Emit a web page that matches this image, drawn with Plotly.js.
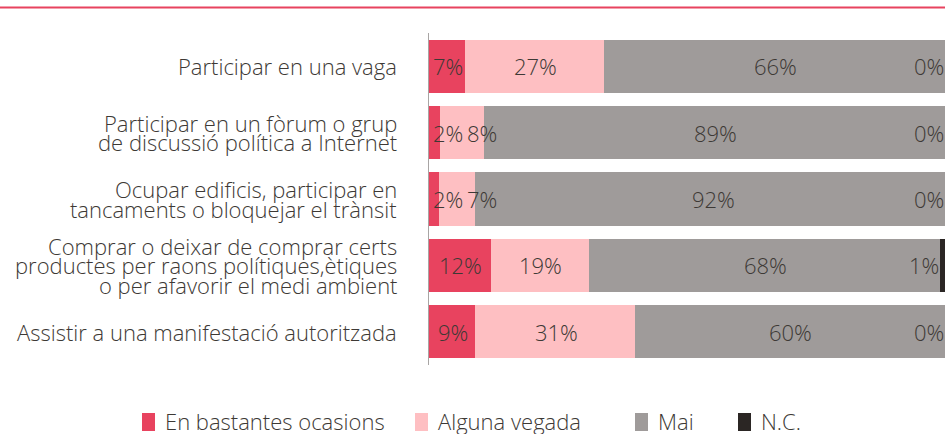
<!DOCTYPE html>
<html>
<head>
<meta charset="utf-8">
<script src="https://cdn.plot.ly/plotly-3.0.1.min.js"></script>
<style>html,body{margin:0;padding:0;background:#fff;}#chart{width:945px;height:434px;}</style>
</head>
<body>
<div id="chart"></div>
<script>
const categories = [
  "Participar en una vaga",
  "Participar en un fòrum o grup<br>de discussió política a Internet",
  "Ocupar edificis, participar en<br>tancaments o bloquejar el trànsit",
  "Comprar o deixar de comprar certs<br>productes per raons polítiques,ètiques<br>o per afavorir el medi ambient",
  "Assistir a una manifestació autoritzada"
];
const seriesNames = ["En bastantes ocasions", "Alguna vegada", "Mai", "N.C."];
const bastantes = [7, 2.2, 2, 12, 9];
const alguna = [27, 8.4, 7, 19, 31];
const mai = [66, 89.4, 92, 68, 60];
const nc = [0, 0, 0, 1, 0];

const colors = ["#E8435F", "#FEBFC2", "#9F9B9A", "#2B2624"];
const txtColor = "#3d3935";
const fontFam = "'Open Sans', Lato, sans-serif";
const fs = 22;

// plot geometry (pixels)
const W = 945, H = 434, ML = 429, MT = 33, MB = 69;
const PW = W - ML, PH = H - MT - MB;
const pxPerUnit = PW / 100;
const px2paperX = p => (p - ML) / PW;
const px2paperY = p => (H - MB - p) / PH;

const seriesVals = [bastantes, alguna, mai, nc];
const traces = seriesVals.map((vals, i) => ({
  type: "bar",
  orientation: "h",
  name: seriesNames[i],
  y: categories,
  x: vals,
  marker: {color: colors[i]},
  textposition: "none",
  hoverinfo: "skip",
  showlegend: false
}));

const annotations = [];
const font = {family: fontFam, size: fs, color: txtColor, weight: 300};
const fmt = v => Math.round(v) + "%";
const estW = s => s.split("").reduce((a, ch) => a + (ch === "%" ? 0.84 : 0.572) * fs, 0);

// segment value labels (first three series), pushed right if they would overlap
categories.forEach((c, k) => {
  let start = 0;
  let minLeft = 3;
  [bastantes, alguna, mai].forEach(vals => {
    const v = vals[k];
    const txt = fmt(v);
    const w = estW(txt);
    const center = (start + v / 2) * pxPerUnit;
    let left = center - w / 2;
    if (left < minLeft) left = minLeft;
    annotations.push({
      x: left / pxPerUnit, y: c, xref: "x", yref: "y",
      text: txt, showarrow: false, xanchor: "left", borderpad: 0,
      font: font
    });
    minLeft = left + w + 3;
    start += v;
  });
});
// N.C. labels at right end
nc.forEach((v, k) => {
  annotations.push({
    x: 100 - v, y: categories[k], xref: "x", yref: "y",
    text: fmt(v), showarrow: false, xanchor: "right", xshift: 1,
    font: font
  });
});
// category labels, line by line
const lh = 19.5;
categories.forEach((c, k) => {
  const lines = c.split("<br>");
  const n = lines.length;
  lines.forEach((ln, i) => {
    annotations.push({
      x: 0, xref: "paper", y: c, yref: "y",
      text: ln, showarrow: false, xanchor: "right", xshift: -30,
      yshift: ((n - 1) / 2 - i) * lh,
      font: font
    });
  });
});

// top rule and manual legend
const shapes = [{
  type: "line", xref: "paper", yref: "paper",
  x0: px2paperX(0), x1: 1, y0: px2paperY(7.5), y1: px2paperY(7.5),
  line: {color: "#E8435F", width: 2}
}];
const legendX = [142, 415, 635, 738];
const legendYc = 422;
seriesNames.forEach((nm, i) => {
  shapes.push({
    type: "rect", xref: "paper", yref: "paper",
    x0: px2paperX(legendX[i]), x1: px2paperX(legendX[i] + 13),
    y0: px2paperY(legendYc - 9), y1: px2paperY(legendYc + 9),
    fillcolor: colors[i], line: {width: 0}
  });
  annotations.push({
    x: px2paperX(legendX[i] + 22), y: px2paperY(legendYc - 1), xref: "paper", yref: "paper",
    text: nm, showarrow: false, xanchor: "left", yanchor: "middle", borderpad: 0,
    font: font
  });
});

const layout = {
  width: W, height: H,
  margin: {l: ML, r: 0, t: MT, b: MB, autoexpand: false},
  barmode: "stack",
  bargap: 0.2,
  paper_bgcolor: "#fff",
  plot_bgcolor: "#fff",
  showlegend: false,
  xaxis: {range: [0, 100], showgrid: false, zeroline: false, showticklabels: false, showline: false, fixedrange: true},
  yaxis: {
    type: "category", categoryorder: "array", categoryarray: categories.slice().reverse(),
    showticklabels: false, showgrid: false, zeroline: false,
    showline: true, linecolor: "#a8a5a4", linewidth: 1, ticks: ""
  },
  annotations: annotations,
  shapes: shapes
};

Plotly.newPlot("chart", traces, layout, {displayModeBar: false, staticPlot: true});
</script>
</body>
</html>
